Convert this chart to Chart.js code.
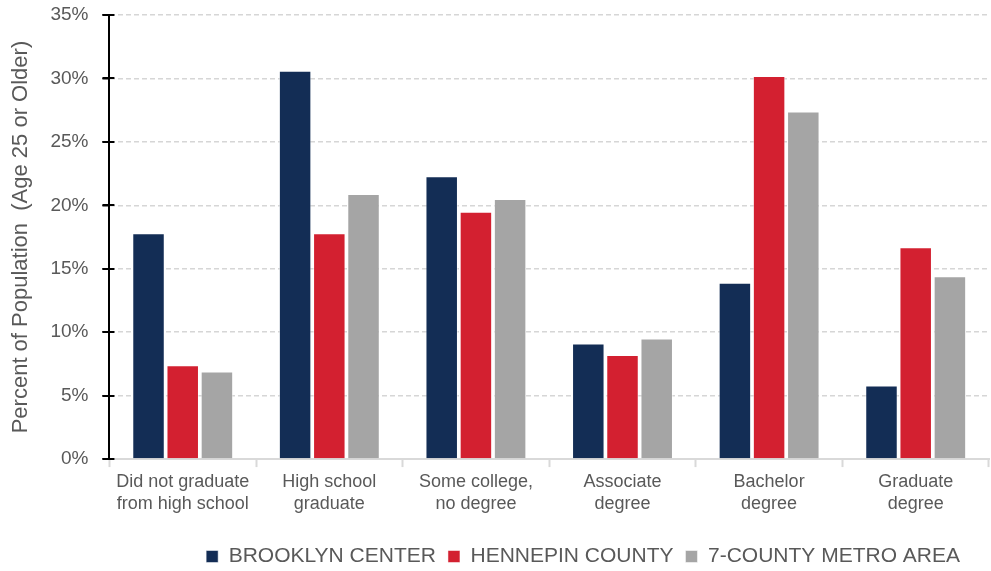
<!DOCTYPE html>
<html>
<head>
<meta charset="utf-8">
<script src="https://cdn.jsdelivr.net/npm/chart.js@4"></script>
<style>
  html, body { margin: 0; padding: 0; background: #fff; }
  #wrap { width: 991px; height: 571px; }
</style>
</head>
<body>
<div id="wrap"><canvas id="eduChart"></canvas></div>
<script>
// Data
const categories = [
  ["Did not graduate", "from high school"],
  ["High school", "graduate"],
  ["Some college,", "no degree"],
  ["Associate", "degree"],
  ["Bachelor", "degree"],
  ["Graduate", "degree"]
];
const brooklynCenter = [17.8, 30.6, 22.3, 9.1, 13.9, 5.8];
const hennepinCounty = [7.4, 17.8, 19.5, 8.2, 30.2, 16.7];
const metroArea = [6.9, 20.9, 20.5, 9.5, 27.4, 14.4];
const yTicks = [0, 5, 10, 15, 20, 25, 30, 35];

const grey = "#595959";
const font = "Liberation Sans, Arial, sans-serif";

// small black ticks that cross the y axis line
const crossTicks = {
  id: "crossTicks",
  afterDraw(chart) {
    const ctx = chart.ctx;
    const y = chart.scales.y;
    ctx.save();
    ctx.strokeStyle = "#000";
    ctx.lineWidth = 2;
    yTicks.forEach(v => {
      const py = Math.round(y.getPixelForValue(v));
      ctx.beginPath();
      ctx.moveTo(y.right - 7, py);
      ctx.lineTo(y.right + 5, py);
      ctx.stroke();
    });
    ctx.restore();
  }
};

// nudge the legend to where it sits in the reference
const moveLegend = {
  id: "moveLegend",
  afterLayout(chart) {
    const l = chart.legend;
    l.left -= 17; l.right -= 17;
    l.top += 15; l.bottom += 15;
  }
};

window.addEventListener("DOMContentLoaded", () => {
  const ctx = document.getElementById("eduChart").getContext("2d");
  new Chart(ctx, {
    type: "bar",
    data: {
      labels: categories,
      datasets: [
        { label: "BROOKLYN CENTER", data: brooklynCenter, backgroundColor: "#132d55" },
        { label: "HENNEPIN COUNTY", data: hennepinCounty, backgroundColor: "#d32030" },
        { label: "7-COUNTY METRO AREA", data: metroArea, backgroundColor: "#a5a5a5" }
      ]
    },
    options: {
      responsive: true,
      maintainAspectRatio: false,
      animation: false,
      datasets: {
        bar: {
          categoryPercentage: 0.7,
          barPercentage: 0.95,
          borderColor: "rgba(255,255,255,0.5)",
          borderWidth: 1
        }
      },
      layout: { padding: { top: 15, right: 2, left: 8, bottom: 9 } },
      plugins: {
        tooltip: { enabled: false },
        legend: {
          position: "bottom",
          align: "end",
          labels: {
            boxWidth: 12,
            boxHeight: 12,
            padding: 12,
            color: grey,
            font: { family: font, size: 21 }
          }
        }
      },
      scales: {
        x: {
          border: { display: true, color: "#d9d9d9", width: 2 },
          grid: {
            offset: true,
            drawOnChartArea: false,
            tickLength: 8,
            tickColor: "#d9d9d9",
            tickWidth: 2
          },
          ticks: {
            color: grey,
            padding: 4,
            maxRotation: 0,
            font: { family: font, size: 18, lineHeight: 1.22 }
          }
        },
        y: {
          min: 0,
          max: 35,
          afterBuildTicks: axis => { axis.ticks = yTicks.map(v => ({ value: v })); },
          afterFit: axis => { axis.paddingTop = 0; },
          border: { display: true, color: "#000", width: 2, dash: [5, 3] },
          grid: {
            color: c => c.tick && c.tick.value === 0 ? "rgba(0,0,0,0)" : "#d6d6d6",
            lineWidth: 1.5,
            tickLength: 7,
            tickColor: "#000"
          },
          ticks: {
            color: grey,
            padding: 14,
            callback: v => v + "%",
            font: { family: font, size: 19 }
          },
          title: {
            display: true,
            text: "Percent of Population  (Age 25 or Older)",
            color: grey,
            padding: { top: 0, bottom: 2 },
            font: { family: font, size: 22 }
          }
        }
      }
    },
    plugins: [crossTicks, moveLegend]
  });
});
</script>
</body>
</html>
